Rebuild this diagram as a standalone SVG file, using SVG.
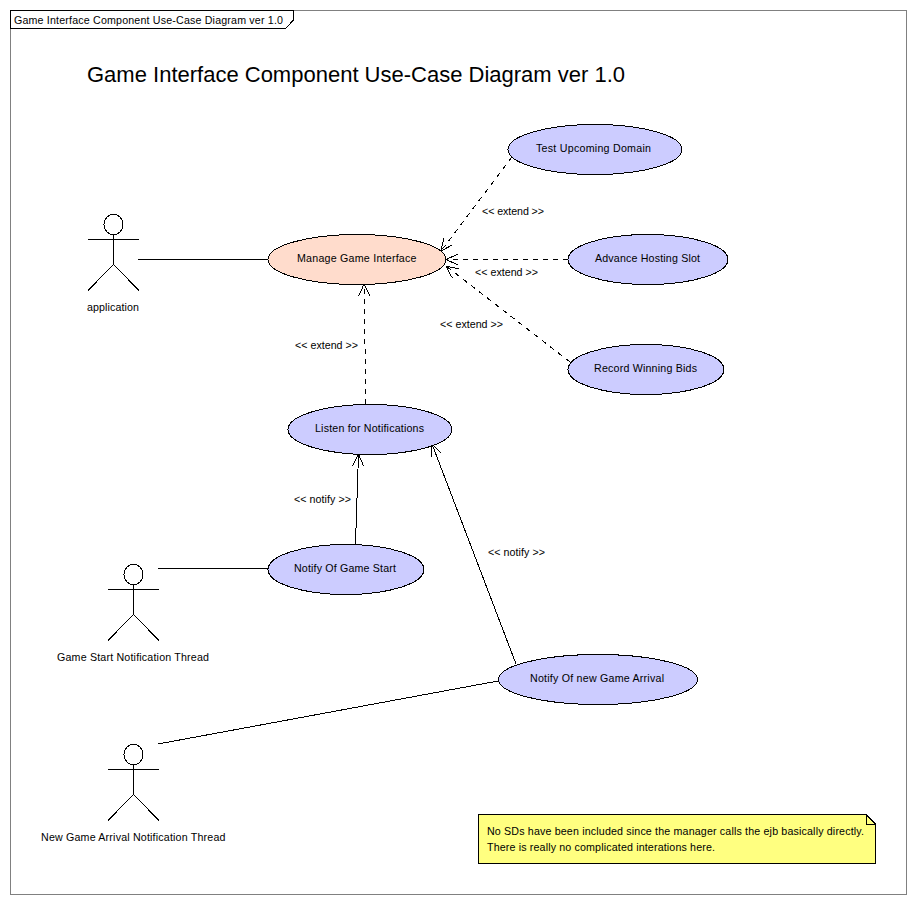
<svg xmlns="http://www.w3.org/2000/svg" width="916" height="904" viewBox="0 0 916 904">
<style>
text{font-family:"Liberation Sans",Arial,sans-serif;font-size:10.67px;fill:#000}
ellipse,path,rect{shape-rendering:crispEdges}
.uc{fill:#ccccff;stroke:#000;stroke-width:1}
.a{fill:none;stroke:#000;stroke-width:1}
.c{fill:none;stroke:#000;stroke-width:1}
.d{stroke-dasharray:5 5}
.arr{marker-end:url(#open)}
</style>
<defs>
<marker id="open" markerUnits="userSpaceOnUse" markerWidth="16" markerHeight="16" refX="13" refY="8" orient="auto" overflow="visible">
<path d="M1 2.500L13 8L1 13.500" fill="none" stroke="#000" stroke-width="1"/>
</marker>
<g id="actor">
<ellipse cx="0" cy="-15" rx="9.500" ry="10.300" class="a"/>
<path d="M-25.500 0H25.500M0 -5V25L-25.500 51M0 25L25.500 51" class="a"/>
</g>
</defs>
<rect width="916" height="904" fill="#fff"/>
<g id="frame">
<rect x="10.500" y="10.500" width="896" height="884" fill="#fff" stroke="#808080"/>
<path d="M10.500 10.500H293.500V20L285.500 28.500H10.500Z" fill="#fff" stroke="#000"/>
<text x="14" y="24" textLength="269">Game Interface Component Use-Case Diagram ver 1.0</text>
</g>
<text id="title" x="87" y="82" textLength="538" style="font-size:22px">Game Interface Component Use-Case Diagram ver 1.0</text>
<g id="connectors">
<path class="c" d="M138 259.500H268M158 568.500H268M158 744L498 681"/>
<path class="c d arr" d="M512 157L441 251"/>
<path class="c d arr" d="M568 259.500H446"/>
<path class="c d arr" d="M570 362L446 266"/>
<path class="c d arr" d="M366 404L364 284"/>
<path class="c arr" d="M355.500 544L358.500 454"/>
<path class="c arr" d="M516 664L432 444"/>
<text x="482" y="215" textLength="62">&lt;&lt; extend &gt;&gt;</text>
<text x="475" y="276" textLength="63">&lt;&lt; extend &gt;&gt;</text>
<text x="440" y="328" textLength="63">&lt;&lt; extend &gt;&gt;</text>
<text x="295" y="349" textLength="63">&lt;&lt; extend &gt;&gt;</text>
<text x="294" y="503" textLength="57">&lt;&lt; notify &gt;&gt;</text>
<text x="488" y="556" textLength="57">&lt;&lt; notify &gt;&gt;</text>
</g>
<g id="actor-application"><use href="#actor" x="113.500" y="239.500"/><text x="87" y="311" textLength="52">application</text></g>
<g id="actor-game-start"><use href="#actor" x="133.500" y="589.500"/><text x="57" y="661" textLength="152">Game Start Notification Thread</text></g>
<g id="actor-new-game"><use href="#actor" x="133.500" y="769.500"/><text x="41" y="841" textLength="184.500">New Game Arrival Notification Thread</text></g>
<g id="uc-manage"><ellipse cx="357" cy="259.500" rx="89" ry="25" fill="#ffdccc" stroke="#000"/><text x="297" y="262" textLength="119.500">Manage Game Interface</text></g>
<g id="uc-test"><ellipse class="uc" cx="595" cy="149.500" rx="87" ry="25"/><text x="536" y="152" textLength="115">Test Upcoming Domain</text></g>
<g id="uc-advance"><ellipse class="uc" cx="648" cy="259.500" rx="80" ry="25"/><text x="595" y="262" textLength="105">Advance Hosting Slot</text></g>
<g id="uc-record"><ellipse class="uc" cx="646" cy="369.500" rx="78" ry="25"/><text x="594" y="372" textLength="103">Record Winning Bids</text></g>
<g id="uc-listen"><ellipse class="uc" cx="370" cy="429.500" rx="82" ry="25"/><text x="315" y="432" textLength="109">Listen for Notifications</text></g>
<g id="uc-notify-start"><ellipse class="uc" cx="346" cy="569.500" rx="78" ry="25"/><text x="294" y="572" textLength="102">Notify Of Game Start</text></g>
<g id="uc-notify-new"><ellipse class="uc" cx="598" cy="679.500" rx="99.500" ry="25"/><text x="530" y="682" textLength="134">Notify Of new Game Arrival</text></g>
<g id="note">
<path d="M478.500 814.500H866L875.500 824V863.500H478.500Z" fill="#ffff80" stroke="#000"/>
<path d="M866 814.500V824H875.500" fill="none" stroke="#000"/>
<text x="487" y="835" textLength="377">No SDs have been included since the manager calls the ejb basically directly.</text>
<text x="487" y="851" textLength="228">There is really no complicated interations here.</text>
</g>
</svg>
